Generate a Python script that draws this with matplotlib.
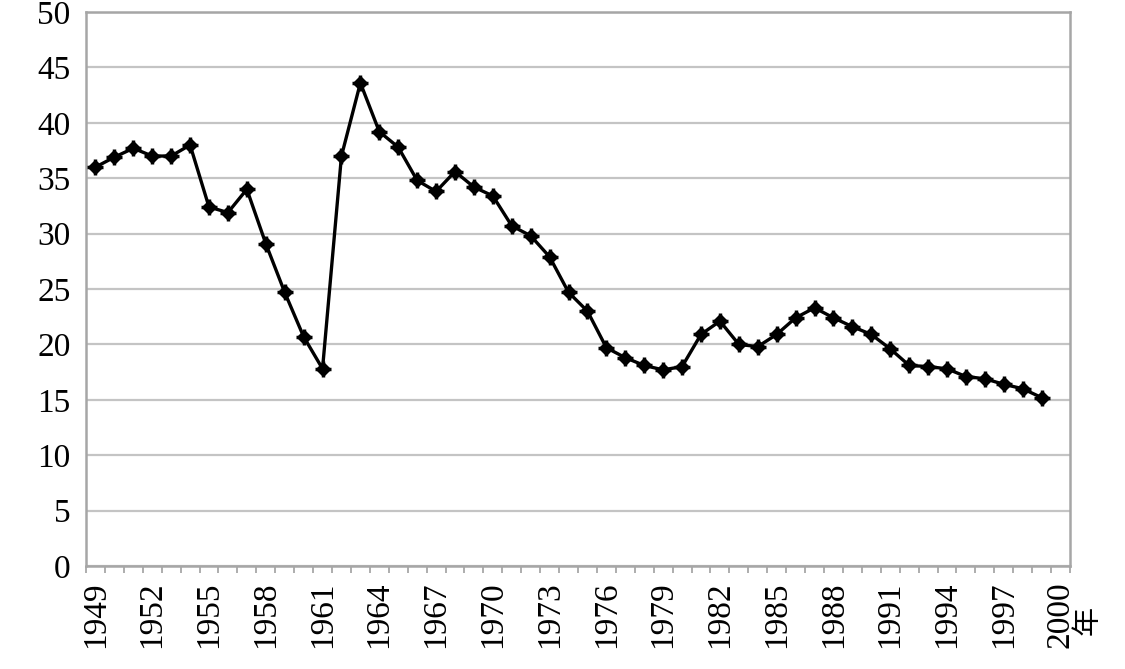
import numpy as np
import matplotlib
matplotlib.use('Agg')
import matplotlib.pyplot as plt

plt.rcParams['font.family'] = ['Liberation Serif', 'Noto Sans CJK SC', 'DejaVu Sans']

# year series, 1949..1999 (2000 has only a label)
years = list(range(1949, 2000))
values = [
    36.0, 36.9, 37.7, 37.0, 37.0, 38.0, 32.4, 31.9, 34.0, 29.1,   # 1949-1958
    24.7, 20.7, 17.8, 37.0, 43.6, 39.2, 37.8, 34.8, 33.8, 35.6,   # 1959-1968
    34.2, 33.4, 30.7, 29.8, 27.9, 24.7, 23.0, 19.7, 18.8, 18.1,   # 1969-1978
    17.7, 18.0, 20.9, 22.1, 20.0, 19.8, 20.9, 22.4, 23.3, 22.4,   # 1979-1988
    21.6, 20.9, 19.6, 18.1, 18.0, 17.8, 17.1, 16.9, 16.4, 16.0,   # 1989-1998
    15.2,                                                         # 1999
]
tick_years = list(range(1949, 2001, 3))
yticks = list(range(0, 51, 5))

fig = plt.figure(figsize=(11.25, 6.69), dpi=100)
ax = fig.add_axes([86/1125, 1 - 566/669, (1070 - 86)/1125, (566 - 12)/669])

ax.grid(axis='y', color='#c4c4c4', lw=1.6, zorder=0)
ax.set_axisbelow(True)

ax.plot(years, values, color='black', lw=2.4, marker='D', ms=7, zorder=3)
ax.plot(years, values, ls='none', color='black', marker='+', ms=12, mew=2.5, zorder=3)

ax.set_xlim(1948.5, 2000.5)
ax.set_ylim(0, 50)
ax.set_yticks(yticks)
ax.set_xticks(tick_years)
ax.set_xticks(np.arange(1948.5, 2001, 1), minor=True)
ax.tick_params(axis='x', which='major', length=0, pad=11, labelsize=24, labelrotation=90)
ax.tick_params(axis='x', which='minor', length=5, width=1.2, color='#a0a0a0', direction='out')
ax.tick_params(axis='y', length=0, pad=11, labelsize=24)

for s in ax.spines.values():
    s.set_color('#a6a6a6')
    s.set_linewidth(1.8)

fig.text(1088/1125, 1 - 620/669, '年', rotation=90, ha='center', va='center',
         fontsize=21, family=['Noto Sans CJK SC', 'DejaVu Sans'])

fig.savefig('out.png', dpi=100)
